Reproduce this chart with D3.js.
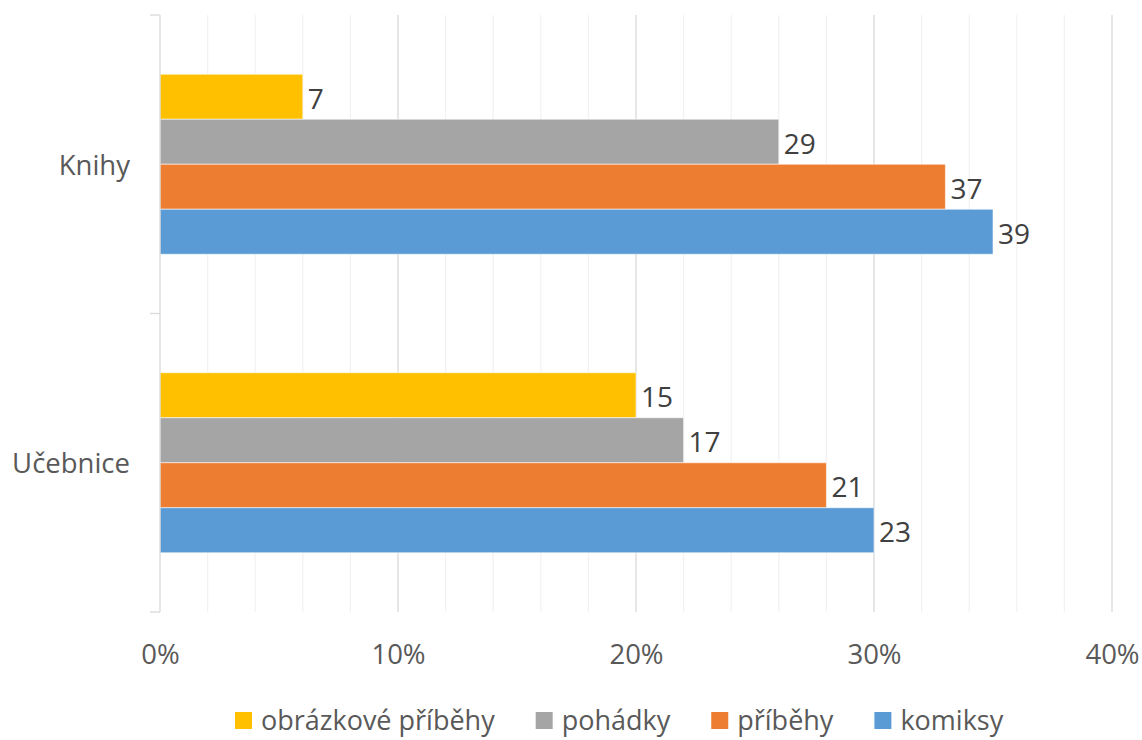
<!DOCTYPE html>
<html>
<head>
<meta charset="utf-8">
<script src="https://cdn.jsdelivr.net/npm/d3@7"></script>
<style>
  html, body { margin: 0; padding: 0; background: #fff; }
  svg { display: block; font-family: "Open Sans", "Noto Sans", sans-serif; }
</style>
</head>
<body>
<svg id="chart" width="1142" height="740"></svg>
<script>
// Categories (vertical axis), series names and colours
const categories = ["Knihy", "Učebnice"];
const seriesNames = ["obrázkové příběhy", "pohádky", "příběhy", "komiksy"];
const seriesColors = ["#FFC000", "#A5A5A5", "#ED7D31", "#5B9BD5"];

// Counts per category (Knihy, Učebnice)
const obrazkovePribehy = [7, 15];
const pohadky = [29, 17];
const pribehy = [37, 21];
const komiksy = [39, 23];

// Horizontal axis ticks (share of answers within a category)
const xTicks = [0, 0.1, 0.2, 0.3, 0.4];

const counts = [obrazkovePribehy, pohadky, pribehy, komiksy];
const totals = categories.map((c, i) => d3.sum(counts, s => s[i]));

// One record per bar: count shown as the label, rounded share drawn as the bar length
const rows = [];
categories.forEach((cat, ci) => {
  seriesNames.forEach((name, si) => {
    const count = counts[si][ci];
    rows.push({
      cat, name, si, count,
      share: Math.round(count / totals[ci] * 100) / 100
    });
  });
});

const svg = d3.select("#chart");
const plot = { left: 160, right: 1112, top: 15, bottom: 612 };
const fontSize = 27.5;

const x = d3.scaleLinear().domain([0, 0.4]).range([plot.left, plot.right]);
const y0 = d3.scaleBand().domain(categories).range([plot.top, plot.bottom]);
const y1 = d3.scaleBand().domain(seriesNames)
  .range([0, y0.bandwidth()])
  .paddingInner(0)
  .paddingOuter(1.317);

// Minor gridlines every 2 %
const minor = d3.range(0.02, 0.4001, 0.02).filter(v => Math.abs(v * 10 - Math.round(v * 10)) > 1e-6);
svg.append("g").selectAll("line").data(minor).join("line")
  .attr("x1", d => x(d)).attr("x2", d => x(d))
  .attr("y1", plot.top).attr("y2", plot.bottom)
  .attr("stroke", "#F2F2F2").attr("stroke-width", 1.3);

// Major gridlines
svg.append("g").selectAll("line").data(xTicks.slice(1)).join("line")
  .attr("x1", d => x(d)).attr("x2", d => x(d))
  .attr("y1", plot.top).attr("y2", plot.bottom)
  .attr("stroke", "#D9D9D9").attr("stroke-width", 1.3);

// Bars
svg.append("g").selectAll("rect").data(rows).join("rect")
  .attr("x", x(0))
  .attr("y", d => y0(d.cat) + y1(d.name))
  .attr("width", d => x(d.share) - x(0))
  .attr("height", y1.bandwidth())
  .attr("fill", d => seriesColors[d.si])
  .attr("stroke", "rgba(255,255,255,0.55)")
  .attr("stroke-width", 1);

// Vertical category axis with tick marks at band edges
const yAxis = svg.append("g");
yAxis.append("line")
  .attr("x1", plot.left).attr("x2", plot.left)
  .attr("y1", plot.top).attr("y2", plot.bottom)
  .attr("stroke", "#D9D9D9").attr("stroke-width", 1.3);
const edges = categories.map(c => y0(c)).concat([plot.bottom]);
yAxis.selectAll("line.tick").data(edges).join("line")
  .attr("class", "tick")
  .attr("x1", plot.left - 10).attr("x2", plot.left)
  .attr("y1", d => d).attr("y2", d => d)
  .attr("stroke", "#D9D9D9").attr("stroke-width", 1.3);
yAxis.selectAll("text").data(categories).join("text")
  .attr("x", 130)
  .attr("y", d => y0(d) + y0.bandwidth() / 2)
  .attr("text-anchor", "end")
  .attr("dominant-baseline", "central")
  .attr("font-size", fontSize)
  .attr("fill", "#595959")
  .text(d => d);

// Horizontal axis labels
const xAxis = d3.axisBottom(x).tickValues(xTicks).tickFormat(d3.format(".0%")).tickSize(0).tickPadding(0);
const xg = svg.append("g").attr("transform", `translate(0, ${plot.bottom + 32})`).call(xAxis);
xg.select(".domain").remove();
xg.selectAll("text")
  .attr("font-size", fontSize)
  .attr("font-family", "\"Open Sans\", sans-serif")
  .attr("fill", "#595959");

// Data labels (counts)
svg.append("g").selectAll("text").data(rows).join("text")
  .attr("x", d => x(d.share) + 5)
  .attr("y", d => y0(d.cat) + y1(d.name) + y1.bandwidth() / 2 + 1)
  .attr("dominant-baseline", "central")
  .attr("font-size", 28)
  .attr("fill", "#404040")
  .text(d => d.count);

// Legend
const legend = svg.append("g").attr("transform", "translate(235, 719)");
let cursor = 0;
seriesNames.forEach((name, i) => {
  const item = legend.append("g").attr("transform", `translate(${cursor}, 0)`);
  item.append("rect")
    .attr("x", 0).attr("y", -7).attr("width", 17).attr("height", 17)
    .attr("fill", seriesColors[i]);
  const t = item.append("text")
    .attr("x", 26).attr("y", 0)
    .attr("dominant-baseline", "central")
    .attr("font-size", 27)
    .attr("fill", "#595959")
    .text(name);
  cursor += 26 + t.node().getComputedTextLength() + 41;
});
</script>
</body>
</html>
